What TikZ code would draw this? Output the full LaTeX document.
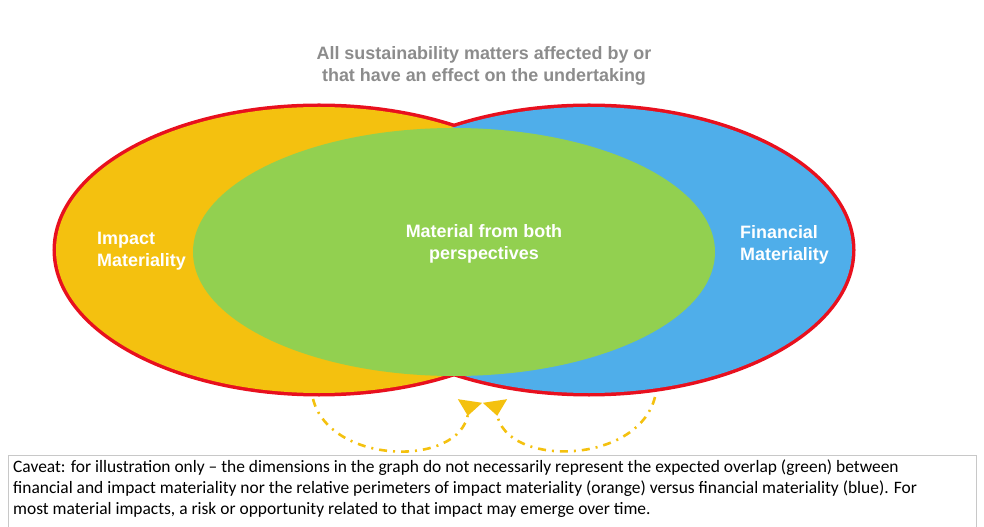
\documentclass[tikz,border=0pt]{standalone}
\usepackage{fontspec}
\setmainfont{Liberation Sans}
\newfontfamily\calfont{Carlito}
\usetikzlibrary{arrows.meta}
\definecolor{orangeF}{HTML}{F4C10F}
\definecolor{blueF}{HTML}{4FAEEA}
\definecolor{greenF}{HTML}{92D050}
\definecolor{redL}{HTML}{E8101E}
\definecolor{grayT}{HTML}{8C8C8C}
\definecolor{boxL}{HTML}{C8C8C8}
\begin{document}
\begin{tikzpicture}[x=1bp,y=-1bp,
  lbl/.style={text=white,font=\bfseries\fontsize{18}{22}\selectfont,align=left,inner sep=0pt},
  cyc/.style={draw=orangeF,line width=2.6bp,dash pattern=on 8bp off 6bp on 2bp off 6bp,
     -{Triangle[reversed,length=15bp,width=24bp]}}]
\useasboundingbox (0,0) rectangle (984,527);
% outline
\draw[redL,line width=7bp] (319,250) ellipse [x radius=263bp,y radius=143bp];
\draw[redL,line width=7bp] (589,250) ellipse [x radius=263bp,y radius=143bp];
\fill[orangeF] (319,250) ellipse [x radius=263bp,y radius=143bp];
\fill[blueF] (589,250) ellipse [x radius=263bp,y radius=143bp];
\fill[greenF] (454,252) ellipse [x radius=261bp,y radius=124bp];
% title
\node (title) [text=grayT,font=\bfseries\fontsize{18}{22}\selectfont,align=center] at (484,66)
  {All sustainability matters affected by or\\that have an effect on the undertaking};
% labels
\node (imp) [lbl,anchor=west] at (97,251) {Impact\\Materiality};
\node (both) [lbl,align=center] at (484,244) {Material from both\\perspectives};
\node (fin) [lbl,anchor=west] at (740,245) {Financial\\Materiality};
% arrows
\coordinate (la) at (313,399);
\coordinate (lb) at (470,401);
\coordinate (ra) at (655,397);
\coordinate (rb) at (495,401);
\draw[cyc] (la) .. controls (330,465) and (460,468) .. (lb);
\draw[cyc] (ra) .. controls (638,465) and (505,468) .. (rb);
% caveat box
\draw[boxL,line width=0.8bp] (8,535) -- (8,455) -- (976,455) -- (976,535);
\node (cav) [anchor=north west,align=left,inner sep=0pt,
  font=\calfont\fontsize{17.5}{21}\selectfont] at (13,460)
  {Caveat: for illustration only – the dimensions in the graph do not necessarily represent the expected overlap (green) between\\
   financial and impact materiality nor the relative perimeters of impact materiality (orange) versus financial materiality (blue). For\\
   most material impacts, a risk or opportunity related to that impact may emerge over time.};
\end{tikzpicture}
\end{document}
